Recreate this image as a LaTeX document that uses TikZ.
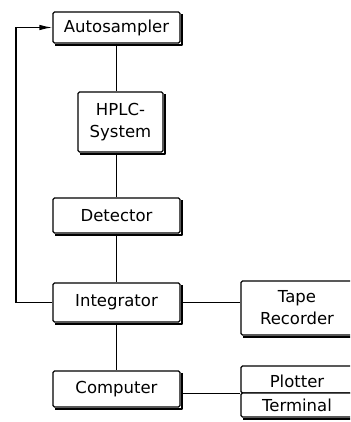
\documentclass[tikz,border=0pt]{standalone}
\usepackage{fontspec}
\setmainfont{DejaVu Sans}
\usetikzlibrary{arrows.meta}
\tikzset{
  blk/.style={draw, line width=1.2pt, fill=white, rounded corners=1.5pt, inner sep=0pt,
    align=center, font=\fontsize{16.5}{22}\selectfont},
  shadeline/.style={line width=1.8pt, line join=round},
  conn/.style={line width=1.1pt}
}
\newcommand\boxshade[1]{\draw[shadeline] ([shift={(1.6,3)}]#1.north east) -- ([shift={(1.6,1.6)}]#1.south east) -- ([shift={(3,1.6)}]#1.south west);}
\begin{document}
\begin{tikzpicture}[x=1pt,y=-1pt]
\useasboundingbox (0,0) rectangle (350,422);
\clip (0,0) rectangle (350,422);
% main column
\node[blk, minimum width=127pt, minimum height=31pt] (auto) at (116.5,27.5) {Autosampler};
\node[blk, minimum width=85pt, minimum height=60pt] (hplc) at (120.5,122) {HPLC-\\System};
\node[blk, minimum width=127pt, minimum height=35pt] (det) at (116.5,215.5) {Detector};
\node[blk, minimum width=127pt, minimum height=39pt] (integ) at (116.5,302.5) {Integrator};
\node[blk, minimum width=127pt, minimum height=36pt] (comp) at (116.5,389) {Computer};
% right column
\node[blk, minimum width=112pt, minimum height=54pt] (tape) at (297,308) {Tape\\Recorder};
\node[blk, minimum width=112pt, minimum height=27pt, text depth=0pt] (plot) at (297,379.5) {\raisebox{-4pt}{Plotter}};
\node[blk, minimum width=112pt, minimum height=24pt] (term) at (297,405) {Terminal};
% shadows
\boxshade{auto}
\boxshade{hplc}
\boxshade{det}
\boxshade{integ}
\boxshade{comp}
\boxshade{tape}
\boxshade{term}
% connectors
\draw[conn] (auto.south) -- (auto.south |- hplc.north);
\draw[conn] (auto.south |- hplc.south) -- (auto.south |- det.north);
\draw[conn] (det.south) -- (integ.north);
\draw[conn] (integ.south) -- (comp.north);
\draw[conn] (integ.east) -- (integ.east -| tape.west);
\draw[conn] (comp.east |- plot.south) -- (plot.south west);
\coordinate (fb) at (16,302.5);
\draw[conn, line width=1.3pt, -{Latex[length=13pt,width=5.5pt]}] (integ.west) -- (fb) |- (auto.west);
\end{tikzpicture}
\end{document}
